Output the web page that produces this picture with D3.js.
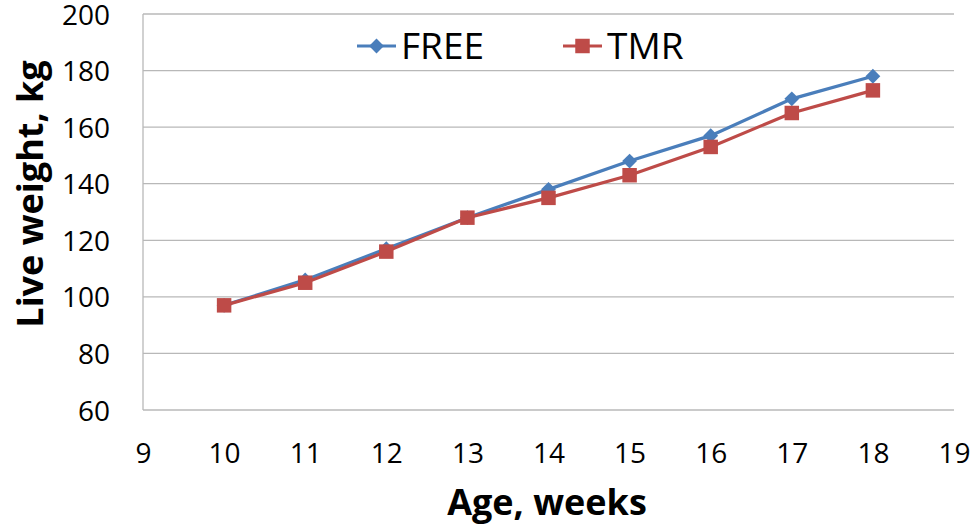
<!DOCTYPE html>
<html>
<head>
<meta charset="utf-8">
<script src="https://cdn.jsdelivr.net/npm/d3@7"></script>
<style>
  body { margin: 0; background: #fff; }
  text { font-family: "Open Sans", "DejaVu Sans", sans-serif; }
</style>
</head>
<body>
<div id="chart"></div>
<script>
// chart data
var weeks = [10, 11, 12, 13, 14, 15, 16, 17, 18];
var freeWeight = [97, 106, 117, 128, 138, 148, 157, 170, 178];
var tmrWeight = [97, 105, 116, 128, 135, 143, 153, 165, 173];
var xTicks = [9, 10, 11, 12, 13, 14, 15, 16, 17, 18, 19];
var yTicks = [60, 80, 100, 120, 140, 160, 180, 200];

var width = 970, height = 530;
var margin = {top: 14, right: 16, bottom: 120, left: 143};

var svg = d3.select("#chart")
    .append("svg")
    .attr("width", width)
    .attr("height", height);

var x = d3.scaleLinear()
    .domain([9, 19])
    .range([margin.left, width - margin.right]);

var y = d3.scaleLinear()
    .domain([60, 200])
    .range([height - margin.bottom, margin.top]);

// Gridlines
svg.append("g")
    .selectAll("line")
    .data(yTicks)
    .enter()
    .append("line")
    .attr("x1", x(9))
    .attr("x2", x(19))
    .attr("y1", function(d) { return y(d); })
    .attr("y2", function(d) { return y(d); })
    .attr("stroke", "#b8b8b8")
    .attr("stroke-width", 1.3);

// Left axis line
svg.append("line")
    .attr("x1", x(9)).attr("x2", x(9))
    .attr("y1", y(60)).attr("y2", y(200))
    .attr("stroke", "#b8b8b8").attr("stroke-width", 1.3);

// Axes (tick labels only)
var xAxis = svg.append("g")
    .attr("transform", "translate(0," + y(60) + ")")
    .call(d3.axisBottom(x).tickValues(xTicks).tickSize(0).tickPadding(33));
xAxis.select(".domain").remove();
xAxis.selectAll("text")
    .style("font-size", "28px")
    .attr("fill", "#000")
    .attr("dy", "0.71em");

var yAxis = svg.append("g")
    .attr("transform", "translate(" + x(9) + ",0)")
    .call(d3.axisLeft(y).tickValues(yTicks).tickSize(0).tickPadding(33));
yAxis.select(".domain").remove();
yAxis.selectAll("text")
    .style("font-size", "28px")
    .attr("fill", "#000")
    .attr("dy", "0.36em");

// Axis titles
svg.append("text")
    .text("Age, weeks")
    .attr("x", 547)
    .attr("y", 515)
    .attr("text-anchor", "middle")
    .style("font-size", "36px")
    .style("font-weight", "bold");

svg.append("text")
    .text("Live weight, kg")
    .attr("transform", "translate(43,194) rotate(-90)")
    .attr("text-anchor", "middle")
    .style("font-size", "36px")
    .style("font-weight", "bold");

// Series
var series = [
    {name: "FREE", values: freeWeight, color: "#4a7ebb", shape: d3.symbolDiamond2, size: 140},
    {name: "TMR", values: tmrWeight, color: "#be4b48", shape: d3.symbolSquare, size: 210}
];

var line = d3.line()
    .x(function(d) { return x(d[0]); })
    .y(function(d) { return y(d[1]); });

series.forEach(function(s) {
    var pts = weeks.map(function(w, i) { return [w, s.values[i]]; });
    var g = svg.append("g");
    g.append("path")
        .datum(pts)
        .attr("d", line)
        .attr("fill", "none")
        .attr("stroke", s.color)
        .attr("stroke-width", 3.2);
    g.selectAll("path.marker")
        .data(pts)
        .enter()
        .append("path")
        .attr("class", "marker")
        .attr("d", d3.symbol().type(s.shape).size(s.size))
        .attr("transform", function(d) { return "translate(" + x(d[0]) + "," + y(d[1]) + ")"; })
        .attr("fill", s.color);
});

// Legend
var legend = svg.append("g");
series.forEach(function(s, i) {
    var lx = 357 + i * 206, ly = 46;
    legend.append("line")
        .attr("x1", lx).attr("x2", lx + 39)
        .attr("y1", ly).attr("y2", ly)
        .attr("stroke", s.color).attr("stroke-width", 3.2);
    legend.append("path")
        .attr("d", d3.symbol().type(s.shape).size(s.size))
        .attr("transform", "translate(" + (lx + 19.5) + "," + ly + ")")
        .attr("fill", s.color);
    legend.append("text")
        .text(s.name)
        .attr("x", lx + 44)
        .attr("y", ly)
        .attr("dy", "0.36em")
        .style("font-size", "37px");
});
</script>
</body>
</html>
